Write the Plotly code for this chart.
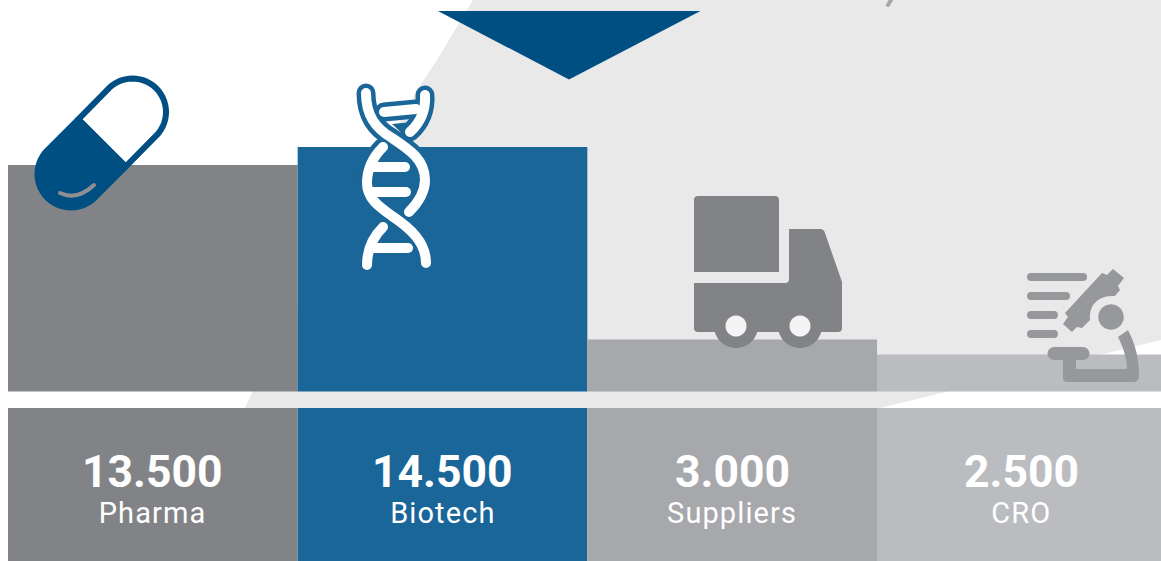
import math
import re
import plotly.graph_objects as go

# ---- data ----
categories = ["Pharma", "Biotech", "Suppliers", "CRO"]
value_labels = ["13.500", "14.500", "3.000", "2.500"]
# drawn heights (the source bars are not strictly proportional)
bar_heights = [13430, 14500, 3090, 2200]
bar_colors = ["#828386", "#1b6699", "#a7a8ab", "#bbbcc0"]

W, H = 1161, 561
BASE_PX, PX_PER_UNIT_X = 391.5, 289.67
UNITS_PER_PX = 14500 / 244.5
STRIP_TOP_PX = 408


def y_of(px):
    return (BASE_PX - px) * UNITS_PER_PX


positions = list(range(len(categories)))


def P(path):
    """Convert a path written in page pixels to paper fractions."""
    out, is_x = [], True
    for tok in re.findall(r"[MLQCZ]|-?\d+\.?\d*", path):
        if tok in "MLQCZ":
            out.append(tok)
            is_x = True
        else:
            v = float(tok)
            out.append(f"{v / W:.5f}" if is_x else f"{1 - v / H:.5f}")
            is_x = not is_x
    return " ".join(out)


def shape(path, fill=None, line=None, width=0, layer="above"):
    d = dict(type="path", xref="paper", yref="paper", path=P(path), layer=layer,
             line=dict(width=width, color=line or "rgba(0,0,0,0)"))
    if fill:
        d["fillcolor"] = fill
    return d


def arc_pts(cx, cy, r, a0, a1, n=28):
    return [(cx + r * math.cos(math.radians(a0 + (a1 - a0) * i / n)),
             cy + r * math.sin(math.radians(a0 + (a1 - a0) * i / n))) for i in range(n + 1)]


def poly(points, close=True):
    s = "M" + " L".join(f"{x:.2f} {y:.2f}" for x, y in points)
    return s + (" Z" if close else "")


def circle(cx, cy, r):
    return poly(arc_pts(cx, cy, r, 0, 360, 48))


shapes = []

# background band and small fragment at the top
BG = "#e9e9ea"
shapes.append(shape("M473 0 L1161 0 L1161 340 L880 408 L245 408 L253 391 L417 90 L437 60 Z",
                    fill=BG, layer="below"))
shapes.append(shape("M891 0 L888 5", line="#a7a8ab", width=4, layer="below"))

# triangle
shapes.append(shape("M438 11 L700.5 11 L569 79.5 Z", fill="#004f83"))

# pill
PILL = "#004f83"
r = 33.5
ux, uy, lx, ly, mx, my = 132.5, 112, 71, 174, 102, 143
k = r * math.sqrt(0.5)
upper = arc_pts(ux, uy, r, -135, 45) + [(mx + k, my + k), (mx - k, my - k)]
lower = arc_pts(lx, ly, r, 45, 225) + [(mx - k, my - k), (mx + k, my + k)]
shapes.append(shape(poly(upper), fill="#ffffff", line=PILL, width=6))
shapes.append(shape(poly(lower), fill=PILL, line=PILL, width=6))
shapes.append(shape("M60 193 Q77 201 94 185", line="#8f9093", width=4))

# DNA
dna_strands = [
    "M366 93 C366 115 375 128 392 138 C410 150 425 160 425 180 C425 193 418 203 409 212",
    "M425 95 C426 112 420 123 410 132",
    "M383 147 C372 158 367 170 367 183 C367 198 378 206 392 216 C410 228 426 242 426 263",
    "M383 227 C372 238 367 250 367 265",
    "M384 112 L416 109",
    "M373 167 L405 167",
    "M373 192 L406 192",
    "M370 248 L408 248",
]
for d in dna_strands:
    shapes.append(shape(d, line="#1b6699", width=19))
shapes.append(shape("M392 124 L412 122 L404 135 Z", fill="#1b6699"))
for d in dna_strands:
    shapes.append(shape(d, line="#ffffff", width=10))

# truck
TRUCK = "#828386"
shapes.append(shape("M694 272 L694 200 Q694 196 698 196 L775 196 Q779 196 779 200 L779 272 Z", fill=TRUCK))
shapes.append(shape("M694 283 L785 283 Q789 283 789 279 L789 229 L820 229 Q824 229 825 233 "
                    "L842 282 L842 328 Q842 332 838 332 L698 332 Q694 332 694 328 Z", fill=TRUCK))
for cx in (736, 800):
    shapes.append(shape(circle(cx, 326, 22), fill=TRUCK))
    shapes.append(shape(circle(cx, 326, 10.5), fill="#f4f4f5"))

# microscope
SCOPE = "#97989b"
for d in ["M1031 277 L1083 277", "M1031 296 L1066 296", "M1031 315 L1054 315", "M1031 334 L1054 334",
          "M1054 353.5 L1083 353.5"]:
    shapes.append(shape(d, line=SCOPE, width=13 if "353" in d else 8))
shapes.append(shape("M1065 313 L1102 273 L1107 275 L1113 269 L1124 278 L1118 286 L1120 290 L1115 296 "
                    "Q1100 295 1093 305 Q1089 312 1090 320 L1082 328 L1077 327 L1072 332 L1063 324 L1068 317 Z",
                    fill=SCOPE))
shapes.append(shape(circle(1111, 317, 12.7), fill=SCOPE))
shapes.append(shape("M1128 330 C1136 345 1139 360 1139 376 Q1139 382 1133 382 L1067 382 Q1063 382 1063 378 "
                    "L1063 360 L1076 360 L1076 369 L1127 369 C1127 358 1123 347 1118 337 Z", fill=SCOPE))

fig = go.Figure()
# upper bars
fig.add_bar(x=positions, y=bar_heights, width=1, marker=dict(color=bar_colors, line=dict(width=0)),
            hoverinfo="skip", showlegend=False)
# lower label cells
strip_base = y_of(STRIP_TOP_PX)
strip_height = y_of(H) - strip_base
fig.add_bar(x=positions, y=[strip_height] * len(positions), base=[strip_base] * len(positions), width=1,
            marker=dict(color=bar_colors, line=dict(width=0)), hoverinfo="skip", showlegend=False)

annotations = []
for i, (lab, cat) in enumerate(zip(value_labels, categories)):
    annotations.append(dict(x=i, y=y_of(472), xref="x", yref="y", text=f"<b>{lab}</b>", showarrow=False,
                            font=dict(family="Roboto", size=44.5, color="#ffffff")))
    annotations.append(dict(x=i, y=y_of(513), xref="x", yref="y", text=cat, showarrow=False,
                            font=dict(family="Roboto", size=29, color="#ffffff")))

fig.update_layout(
    width=W, height=H, margin=dict(l=0, r=0, t=0, b=0),
    paper_bgcolor="#ffffff", plot_bgcolor="rgba(0,0,0,0)", barmode="overlay",
    shapes=shapes, annotations=annotations, showlegend=False,
    xaxis=dict(visible=False, range=[-0.5 - 8 / PX_PER_UNIT_X, -0.5 + (W - 8) / PX_PER_UNIT_X], fixedrange=True),
    yaxis=dict(visible=False, range=[y_of(H), y_of(0)], fixedrange=True),
)

post = """
document.body.style.margin='0';
document.body.style.overflow='hidden';
document.querySelectorAll('.shapelayer path').forEach(function(p){
  p.style.strokeLinecap='round'; p.style.strokeLinejoin='round';
});
document.querySelectorAll('.annotation-text').forEach(function(t){
  if(!t.querySelector('b') && t.innerHTML.indexOf('font-weight')<0){ t.style.letterSpacing='1.1px'; }
});
"""
fig.write_html("out.html", post_script=post, config={"displayModeBar": False})
